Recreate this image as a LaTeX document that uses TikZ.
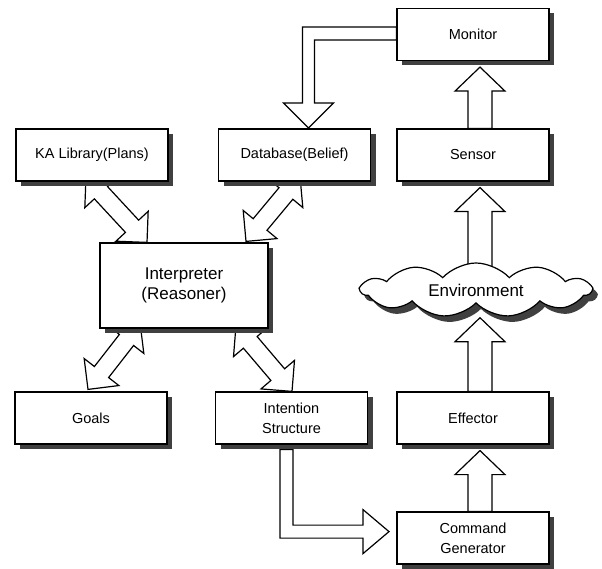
\documentclass[tikz,border=0pt]{standalone}
\usepackage{fontspec}
\setmainfont{Liberation Sans}
\usetikzlibrary{calc, positioning, shapes.symbols, shadows, backgrounds}

\tikzset{
  block/.style={draw, fill=white, line width=1.2pt, minimum width=152pt,
    minimum height=52pt, inner sep=2pt, align=center,
    font=\fontsize{14.5}{20}\selectfont,
    drop shadow={shadow xshift=5pt, shadow yshift=-5pt, fill=black!75, opacity=1}},
  bigblock/.style={block, minimum width=168pt, minimum height=85pt,
    font=\fontsize{17}{20}\selectfont},
  fatarrow/.style={draw, fill=white, line width=1.2pt, line join=miter},
}

% straight hollow arrow: tail, tip, shaft half width, head half width, head length
\newcommand{\blockarrow}[5]{%
  \coordinate (hb) at ($(#2)!#5!(#1)$);
  \draw[fatarrow] ($(#1)!#3!90:(#2)$) -- ($(hb)!#3!90:(#2)$) -- ($(hb)!#4!90:(#2)$)
    -- (#2) -- ($(hb)!#4!-90:(#2)$) -- ($(hb)!#3!-90:(#2)$) -- ($(#1)!#3!-90:(#2)$) -- cycle;
}
% hollow arrow with a head on both ends
\newcommand{\dblarrow}[5]{%
  \coordinate (ha) at ($(#1)!#5!(#2)$);
  \coordinate (hb) at ($(#2)!#5!(#1)$);
  \draw[fatarrow] (#1) -- ($(ha)!#4!-90:(#1)$) -- ($(ha)!#3!-90:(#1)$)
    -- ($(hb)!#3!90:(#2)$) -- ($(hb)!#4!90:(#2)$) -- (#2)
    -- ($(hb)!#4!-90:(#2)$) -- ($(hb)!#3!-90:(#2)$)
    -- ($(ha)!#3!90:(#1)$) -- ($(ha)!#4!90:(#1)$) -- cycle;
}

\begin{document}
\begin{tikzpicture}[x=1pt, y=-1pt]
  \useasboundingbox (0,0) rectangle (602,569);

  % boxes
  \node[block] (monitor) at (473,34.5) {Monitor};
  \node[block] (ka) at (92,155) {KA Library(Plans)};
  \node[block] (db) at (294.5,155) {Database(Belief)};
  \node[block] (sensor) at (473,155) {Sensor};
  \node[bigblock] (interp) at (184,285.5) {Interpreter\\(Reasoner)};
  \node[cloud, cloud puffs=11, cloud puff arc=95, cloud ignores aspect, draw, fill=white,
    line width=1.2pt, minimum width=230pt, minimum height=54pt,
    font=\fontsize{17}{20}\selectfont,
    drop shadow={shadow xshift=5pt, shadow yshift=-6pt, fill=black!75, opacity=1}]
    (env) at (476,290) {Environment};
  \node[block] (goals) at (91,418) {Goals};
  \node[block] (intent) at (291.5,418) {Intention\\Structure};
  \node[block] (effector) at (473,418) {Effector};
  \node[block] (cmd) at (473,538) {Command\\Generator};

  % arrow ends
  \coordinate (sensorUp) at ($(sensor.north)+(7,0)$);
  \coordinate (monitorDn) at ($(monitor.south)+(7,6)$);
  \coordinate (envUp) at ($(env.north)+(4,6)$);
  \coordinate (sensorDn) at ($(sensor.south)+(7,6)$);
  \coordinate (effUp) at ($(effector.north)+(7,0)$);
  \coordinate (envDn) at ($(env.south)+(4,14)$);
  \coordinate (cmdUp) at ($(cmd.north)+(7,0)$);
  \coordinate (effDn) at ($(effector.south)+(7,6)$);
  \coordinate (kaDn) at ($(ka.south)+(-6,-5)$);
  \coordinate (interpKa) at ($(interp.north)+(-37,0)$);
  \coordinate (dbDn) at ($(db.south)+(5.5,-5)$);
  \coordinate (interpDb) at ($(interp.north)+(62,-1)$);
  \coordinate (interpGo) at ($(interp.south)+(-44,-6)$);
  \coordinate (goalsUp) at ($(goals.north)+(-3,-2)$);
  \coordinate (interpIn) at ($(interp.south)+(52,-3)$);
  \coordinate (intentUp) at ($(intent.north)+(0.5,0)$);

  \begin{scope}[on background layer]
    % upward flow on the right
    \blockarrow{sensorUp}{monitorDn}{12pt}{25pt}{24pt}
    \blockarrow{envUp}{sensorDn}{12pt}{25pt}{24pt}
    \blockarrow{effUp}{envDn}{12pt}{25pt}{24pt}
    \blockarrow{cmdUp}{effDn}{12pt}{25pt}{24pt}
    % two-way links with the interpreter
    \dblarrow{kaDn}{interpKa}{9pt}{22pt}{22pt}
    \dblarrow{dbDn}{interpDb}{9pt}{22pt}{22pt}
    \dblarrow{interpGo}{goalsUp}{9pt}{22pt}{22pt}
    \dblarrow{interpIn}{intentUp}{9pt}{22pt}{22pt}
    % monitor to database
    \draw[fatarrow] ($(monitor.west)+(0,-7.5)$) -- ++(-94,0) -- ++(0,76) -- ++(-19,0)
      -- ++(25,25) -- ++(25,-25) -- ++(-19,0) -- ++(0,-63) -- ++(82,0) -- cycle;
    % intention structure to command generator
    \draw[fatarrow] ($(intent.south)+(-11.5,5)$) -- ++(0,88.5) -- ++(83,0) -- ++(0,15.5)
      -- ++(26,-22) -- ++(-26,-22) -- ++(0,15.5) -- ++(-70,0) -- ++(0,-75.5) -- cycle;
  \end{scope}
\end{tikzpicture}
\end{document}
